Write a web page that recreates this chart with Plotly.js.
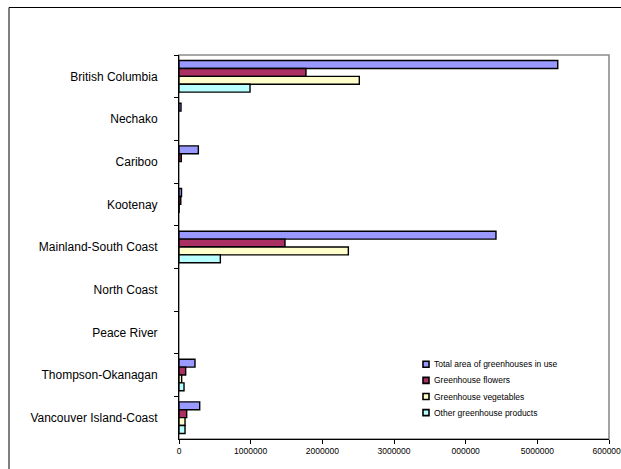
<!DOCTYPE html>
<html>
<head>
<meta charset="utf-8">
<script src="https://cdn.plot.ly/plotly-3.0.1.min.js"></script>
<style>
  html, body { margin: 0; padding: 0; background: #ffffff; }
  #chart { width: 621px; height: 469px; }
</style>
</head>
<body>
<div id="chart"></div>
<script>
// Greenhouse area by BC region (square metres)
const regions = [
  "British Columbia",
  "Nechako",
  "Cariboo",
  "Kootenay",
  "Mainland-South Coast",
  "North Coast",
  "Peace River",
  "Thompson-Okanagan",
  "Vancouver Island-Coast"
];
const totalArea   = [5285000, 28000, 270000, 35000, 4423000, null, null, 223000, 289000];
const flowers     = [1772000, null,  32000,  25000, 1479000, null, null, 93000,  107000];
const vegetables  = [2516000, null,  null,   2000,  2363000, null, null, 37000,  84000];
const otherProds  = [991000,  null,  null,   null,  577000,  null, null, 70000,  84000];

const seriesNames = [
  "Total area of greenhouses in use",
  "Greenhouse flowers",
  "Greenhouse vegetables",
  "Other greenhouse products"
];
const xTickVals = [0, 1000000, 2000000, 3000000, 4000000, 5000000, 6000000];
const xTickText = ["0", "1000000", "2000000", "3000000", "000000", "5000000", "6000000"];

const fills = ["#9999FF", "#AA2F62", "#FFFFCC", "#B8FFFF"];
const seriesValues = [totalArea, flowers, vegetables, otherProds];

const FONT = "Liberation Sans, Arial, sans-serif";

const traces = seriesValues.map((vals, i) => ({
  type: "bar",
  orientation: "h",
  name: seriesNames[i],
  y: regions,
  x: vals,
  marker: { color: fills[i], line: { color: "#000000", width: 1.4 } },
  hoverinfo: "x+y+name"
}));

// plot area: 179..609 px horizontally, 55..439 px vertically
const L = 179, R = 12, T = 55, B = 30;
const W = 621 - L - R, H = 469 - T - B;
const px = v => (v - L) / W;
const py = v => 1 - (v - T) / H;

// compact key in the lower right of the plot: small swatch + label per series
const keyTop = 364.3, keyStep = 16.1, keySwatchX = 423, keyTextX = 432;
const keyShapes = seriesNames.map((name, i) => {
  const cy = keyTop + i * keyStep;
  return {
    type: "rect", xref: "paper", yref: "paper",
    x0: px(keySwatchX), x1: px(keySwatchX + 6),
    y0: py(cy + 3), y1: py(cy - 3),
    fillcolor: fills[i],
    line: { color: "#000000", width: 1.6 },
    layer: "above"
  };
});
const keyLabels = seriesNames.map((name, i) => ({
  xref: "paper", yref: "paper",
  x: px(keyTextX), y: py(keyTop + i * keyStep),
  xanchor: "left", yanchor: "middle",
  text: name,
  showarrow: false,
  font: { family: FONT, size: 8.5, color: "#000000" }
}));

const layout = {
  width: 621,
  height: 469,
  margin: { l: L, r: R, t: T, b: B, pad: 0 },
  paper_bgcolor: "#ffffff",
  plot_bgcolor: "#ffffff",
  barmode: "group",
  bargap: 0.26,
  bargroupgap: 0,
  font: { family: FONT, color: "#000000" },
  showlegend: false,
  xaxis: {
    range: [0, 6000000],
    tickmode: "array",
    tickvals: xTickVals,
    ticktext: xTickText,
    tickfont: { family: FONT, size: 8.5, color: "#000000" },
    ticklabeloverflow: "allow",
    ticks: "outside",
    ticklen: 4,
    tickcolor: "#000000",
    showline: true,
    linecolor: "#000000",
    linewidth: 1,
    showgrid: false,
    zeroline: false,
    fixedrange: true
  },
  yaxis: {
    type: "category",
    autorange: "reversed",
    tickson: "boundaries",
    ticks: "outside",
    ticklen: 4,
    tickcolor: "#000000",
    ticklabelstandoff: 18,
    tickfont: { family: FONT, size: 12, color: "#000000" },
    showline: true,
    linecolor: "#000000",
    linewidth: 1,
    showgrid: false,
    zeroline: false,
    fixedrange: true
  },
  annotations: keyLabels,
  shapes: [
    // plot area frame
    { type: "rect", xref: "paper", yref: "paper", x0: 0, x1: 1, y0: 0, y1: 1,
      line: { color: "#8c8c8c", width: 1.6 }, layer: "below" },
    // outer chart frame
    { type: "rect", xref: "paper", yref: "paper",
      x0: px(9), x1: px(630), y0: py(475), y1: py(7.5),
      line: { color: "#000000", width: 1 }, layer: "below" }
  ].concat(keyShapes)
};

Plotly.newPlot("chart", traces, layout, { displayModeBar: false, staticPlot: true });
</script>
</body>
</html>
